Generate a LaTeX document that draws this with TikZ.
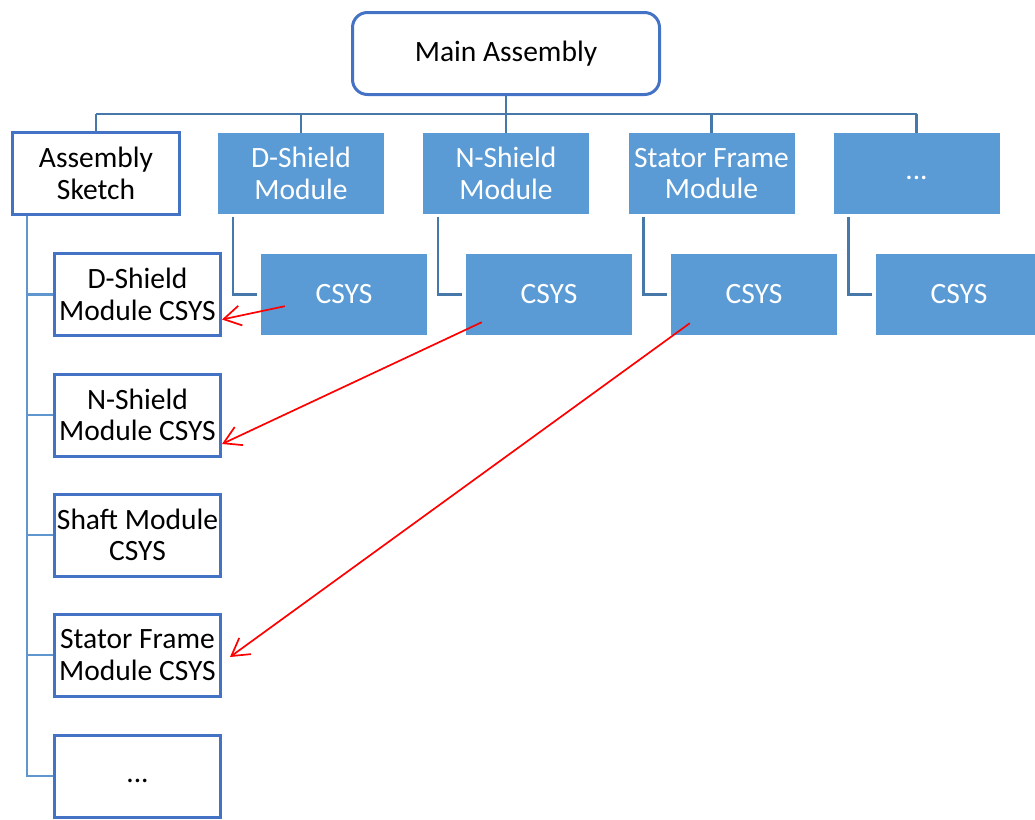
\documentclass[tikz,border=0pt]{standalone}
\usepackage{fontspec}
\setmainfont{Carlito}
\usetikzlibrary{calc,arrows.meta}
\definecolor{cFill}{RGB}{91,155,213}
\definecolor{cBox}{RGB}{68,114,196}
\definecolor{cBus}{RGB}{70,120,170}
\definecolor{cTree}{RGB}{95,150,205}
\tikzset{
	txt/.style={font=\fontsize{29.5}{31.7}\selectfont, align=center, inner sep=0pt},
	mainbox/.style={txt, draw=cBox, line width=3pt, rounded corners=15pt, fill=white, minimum width=307pt, minimum height=82pt},
	modbox/.style={txt, fill=cFill, text=white, minimum width=166pt, minimum height=81pt},
	refbox/.style={txt, draw=cBox, line width=3pt, fill=white, minimum width=166pt, minimum height=82pt},
	busline/.style={draw=cBus, line width=2.6pt},
	treeline/.style={draw=cTree, line width=2.6pt},
	redarrow/.style={draw=red, line width=1.7pt, -{Straight Barb[length=17pt,width=20pt]}}
}

\begin{document}
\begin{tikzpicture}[x=1pt,y=-1pt]
				\useasboundingbox (0,0) rectangle (1035,819);
				
				\node[mainbox] (main) at (506,53.5) {Main Assembly};
				
				\node[refbox, minimum width=167pt] (sketch) at (96,173.5) {Assembly\\Sketch};
				\node[modbox] (dmod) at (301,173.5) {D-Shield\\Module};
				\node[modbox] (nmod) at (506,173.5) {N-Shield\\Module};
				\node[modbox] (smod) at (711.5,173.5) {Stator Frame\\Module};
				\node[modbox] (xmod) at (916.5,173.5) {\strut...};
				
				\node[modbox] (dcs) at (344,294.5) {CSYS};
				\node[modbox] (ncs) at (549,294.5) {CSYS};
				\node[modbox] (scs) at (754,294.5) {CSYS};
				\node[modbox] (xcs) at (959,294.5) {CSYS};
				
				\node[refbox] (dref) at (137.5,294.5) {D-Shield\\Module CSYS};
				\node[refbox] (nref) at (137.5,415) {N-Shield\\Module CSYS};
				\node[refbox] (shref) at (137.5,535) {Shaft Module\\CSYS};
				\node[refbox] (sref) at (137.5,655) {Stator Frame\\Module CSYS};
				\node[refbox] (xref) at (137.5,776) {\strut...};
				
				\coordinate (bus) at (506,114);
				\draw[busline] (main.south) -- (bus);
				\draw[busline] (sketch.north |- bus) -- (xmod.north |- bus);
				\foreach \m in {sketch,dmod,nmod,smod,xmod}
					\draw[busline] (\m.north |- bus) -- (\m.north);
				\foreach \m/\c in {dmod/dcs,nmod/ncs,smod/scs,xmod/xcs}
					\draw[busline] ([xshift=15pt,yshift=-3pt]\m.south west) |- ([xshift=-4pt]\c.west);
				
				\coordinate (trunk) at ([xshift=16pt]sketch.south west);
				\draw[treeline] (trunk) |- (xref.west);
				\foreach \r in {dref,nref,shref,sref}
					\draw[treeline] (\r.west) -- (\r.west -| trunk);
				
				\coordinate (dfrom) at ($(dcs.south west)+(24,-29)$);
				\coordinate (nfrom) at ($(ncs.south west)+(16,-13)$);
				\coordinate (sfrom) at ($(scs.south west)+(19,-12)$);
				\draw[redarrow] (dfrom) -- ($(dref.east)+(0,25)$);
				\draw[redarrow] (nfrom) -- ($(nref.east)+(0,29)$);
				\draw[redarrow] (sfrom) -- ($(sref.east)+(8,2)$);
			\end{tikzpicture}
\end{document}
